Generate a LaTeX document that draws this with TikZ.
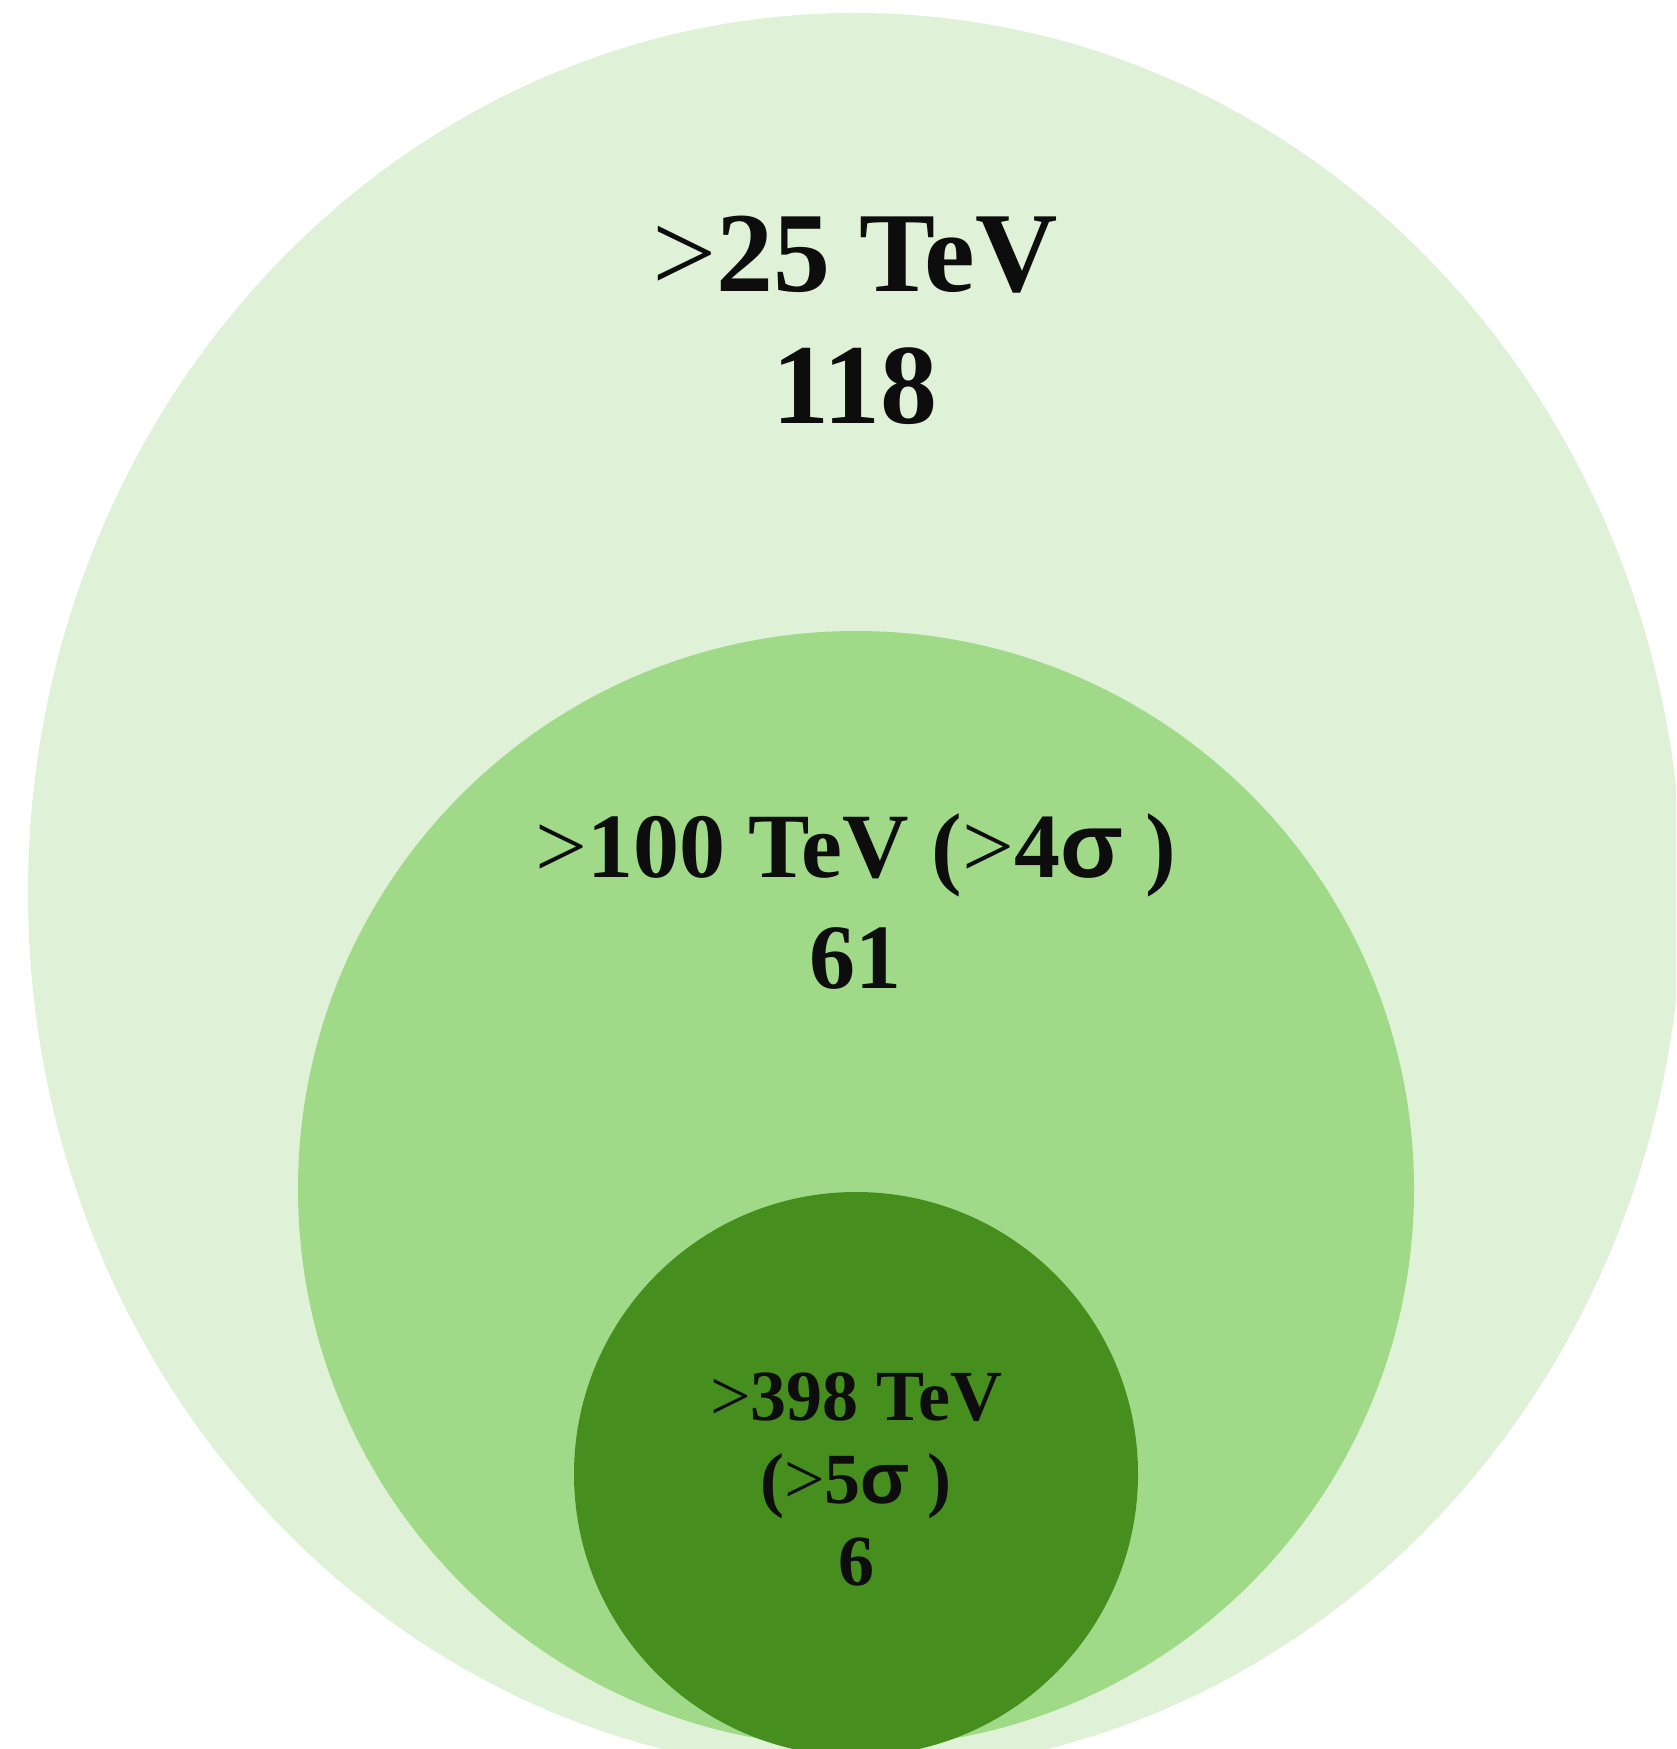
\documentclass[tikz,border=0pt]{standalone}
\usepackage{fontspec}
\setmainfont{Liberation Serif}
\newfontfamily\sigfont{Liberation Sans}
\newcommand{\gtmark}{\textmd{>}}
\newcommand{\sigmark}{{\sigfont\bfseries σ}}
\definecolor{outerc}{RGB}{223,242,215}
\definecolor{midc}{RGB}{160,218,137}
\definecolor{innerc}{RGB}{70,143,30}
\definecolor{txt}{RGB}{13,13,13}
\begin{document}
\begin{tikzpicture}[x=0.5pt,y=-0.5pt,
  lbl/.style={anchor=base,inner sep=0pt,text=txt,font=\bfseries\fontsize{57}{60}\selectfont},
  mlbl/.style={anchor=base,inner sep=0pt,text=txt,font=\bfseries\fontsize{46}{50}\selectfont},
  slbl/.style={anchor=base,inner sep=0pt,text=txt,font=\bfseries\fontsize{36}{40}\selectfont}]
\useasboundingbox (0,0) rectangle (1676,1749);
\fill[white] (0,0) rectangle (1676,1749);
\begin{scope}
\clip (0,0) rectangle (1676,1749);
\fill[outerc] (855,893) ellipse [x radius=827, y radius=880];
\fill[midc] (856,1189) circle [radius=558];
\fill[innerc] (856,1474) circle [radius=282];
\end{scope}
\node[lbl] (t1) at (855,292) {\gtmark25 TeV};
\node[lbl] (n1) at (855,423) {118};
\node[mlbl] (t2) at (856,877) {\gtmark100 TeV (\gtmark4\sigmark\ )};
\node[mlbl] (n2) at (855,988) {61};
\node[slbl] (t3) at (856,1420) {\gtmark398 TeV};
\node[slbl] (s3) at (856,1503) {(\gtmark5\sigmark\ )};
\node[slbl] (n3) at (856,1585) {6};
\end{tikzpicture}
\end{document}
